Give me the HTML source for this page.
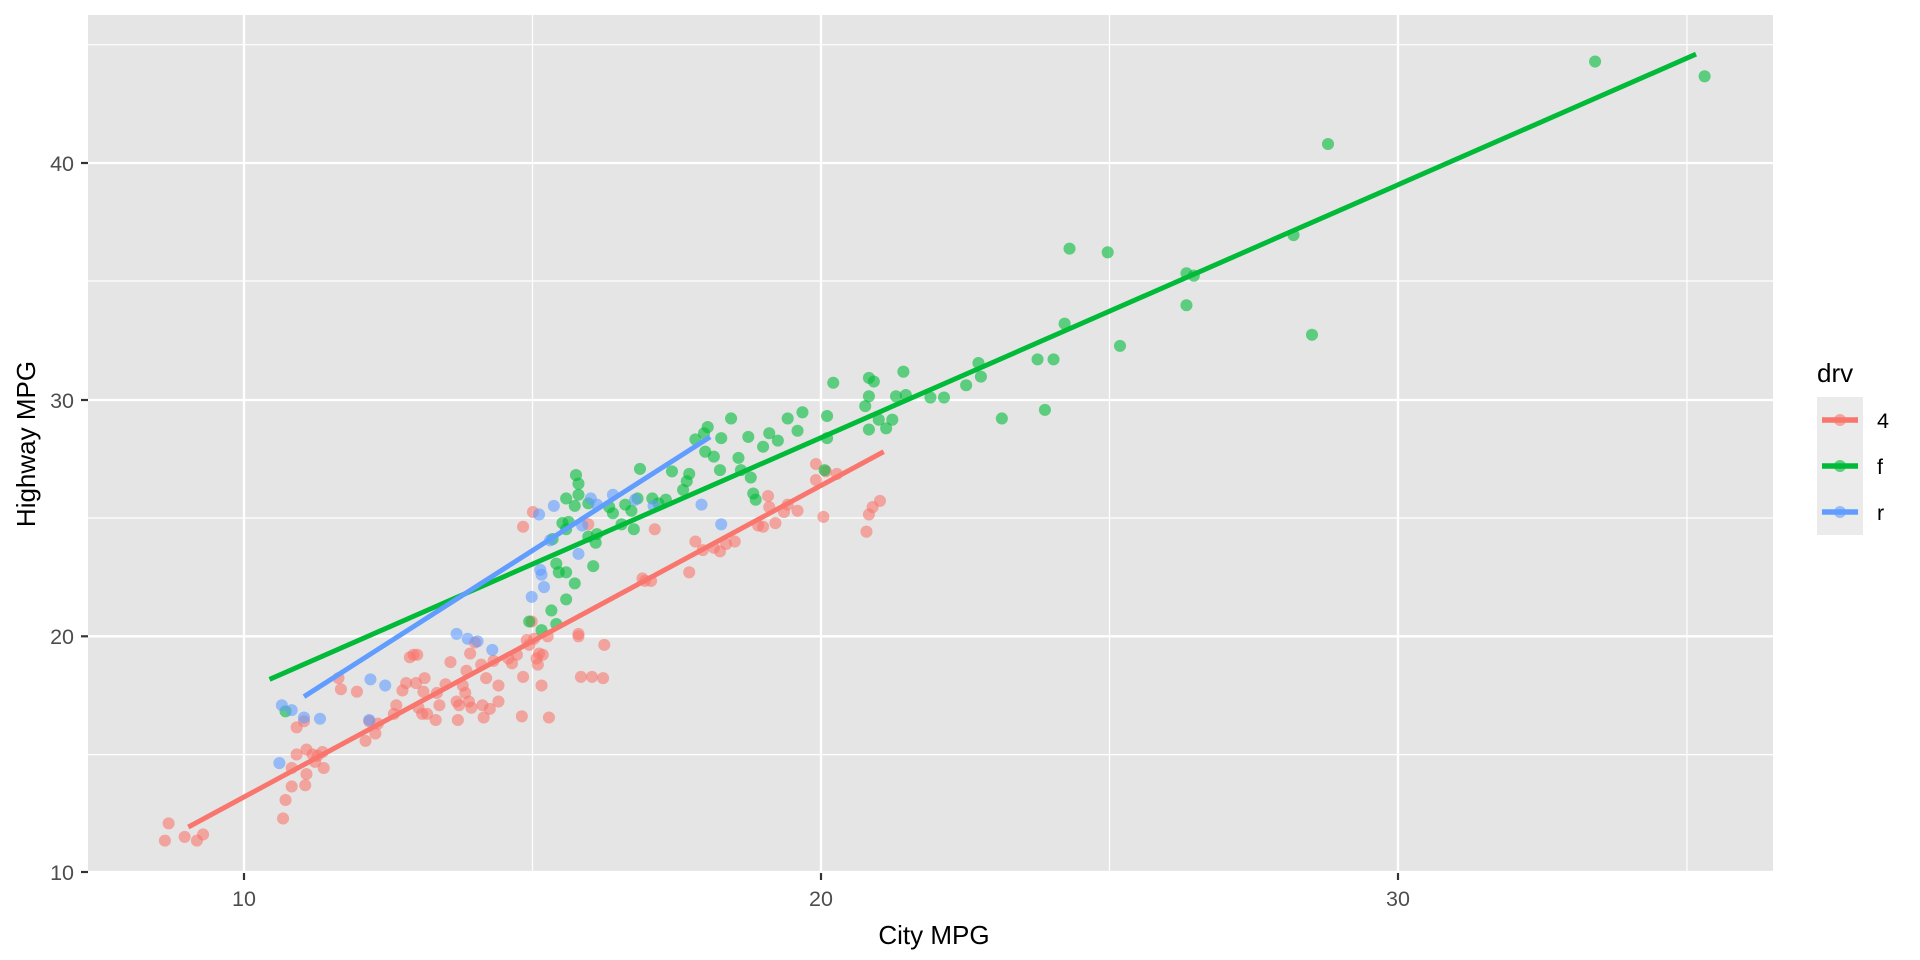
<!DOCTYPE html>
<html><head><meta charset="utf-8"><style>html,body{margin:0;padding:0;background:#fff}svg{display:block}</style></head>
<body>
<svg width="1920" height="960" viewBox="0 0 1920 960" xmlns="http://www.w3.org/2000/svg" font-family="Liberation Sans, sans-serif">
<rect x="88" y="15" width="1685" height="858" fill="#E5E5E5"/>
<g stroke="#fff" stroke-width="1.2">
<line x1="88" x2="1773" y1="754.6" y2="754.6"/><line x1="88" x2="1773" y1="518" y2="518"/><line x1="88" x2="1773" y1="281" y2="281"/><line x1="88" x2="1773" y1="44.7" y2="44.7"/>
<line y1="15" y2="873" x1="532.5" x2="532.5"/><line y1="15" y2="873" x1="1109.5" x2="1109.5"/><line y1="15" y2="873" x1="1687" x2="1687"/>
</g>
<g stroke="#fff" stroke-width="2.3">
<line x1="88" x2="1773" y1="872" y2="872"/><line x1="88" x2="1773" y1="636.3" y2="636.3"/><line x1="88" x2="1773" y1="400" y2="400"/><line x1="88" x2="1773" y1="163" y2="163"/>
<line y1="15" y2="873" x1="244" x2="244"/><line y1="15" y2="873" x1="821" x2="821"/><line y1="15" y2="873" x1="1398" x2="1398"/>
</g>
<g id="pts" transform="scale(1.230769)"></g>
<g stroke="#333" stroke-width="2.2">
<line x1="81" x2="88" y1="872" y2="872"/><line x1="81" x2="88" y1="636.3" y2="636.3"/><line x1="81" x2="88" y1="400" y2="400"/><line x1="81" x2="88" y1="163" y2="163"/>
<line y1="873" y2="880" x1="244" x2="244"/><line y1="873" y2="880" x1="821" x2="821"/><line y1="873" y2="880" x1="1398" x2="1398"/>
</g>
<g fill="#4D4D4D" font-size="21.5" text-anchor="end">
<text x="74" y="880">10</text><text x="74" y="644">20</text><text x="74" y="408">30</text><text x="74" y="171">40</text>
</g>
<g fill="#4D4D4D" font-size="21.5" text-anchor="middle">
<text x="244" y="906">10</text><text x="821" y="906">20</text><text x="1398" y="906">30</text>
</g>
<text x="934" y="944" font-size="26" text-anchor="middle">City MPG</text>
<text transform="translate(35,444) rotate(-90)" font-size="26" text-anchor="middle">Highway MPG</text>
<text x="1817" y="382" font-size="26">drv</text>
<rect x="1817" y="397" width="46" height="138" fill="#EBEBEB"/>
<g stroke-width="5.5">
<line x1="1822" x2="1858" y1="420" y2="420" stroke="#F8766D"/>
<line x1="1822" x2="1858" y1="466" y2="466" stroke="#00BA38"/>
<line x1="1822" x2="1858" y1="512" y2="512" stroke="#619CFF"/>
</g>
<circle cx="1840" cy="420" r="6" fill="#F8766D" fill-opacity="0.6"/>
<circle cx="1840" cy="466" r="6" fill="#00BA38" fill-opacity="0.6"/>
<circle cx="1840" cy="512" r="6" fill="#619CFF" fill-opacity="0.6"/>
<g font-size="21.5" fill="#000"><text x="1877" y="428">4</text><text x="1877" y="474">f</text><text x="1877" y="520">r</text></g>
</svg>
<script>
var R=[[134,683],[137,669],[150,680],[160,683],[165,678],[230,665],[232,650],[237,639],[237,624],[241,613],[249,629],[248,638],[249,609],[254,613],[256,619],[258,614],[263,624],[262,611],[241,591],[247,586],[275,551],[277,560],[290,562],[297,602],[305,596],[307,588],[300,586],[320,580],[322,573],[327,561],[330,555],[333,534],[336,532],[339,532],[338,555],[340,575],[344,562],[345,551],[343,580],[347,580],[354,585],[357,573],[355,563],[362,556],[366,538],[371,570],[372,585],[373,573],[376,557],[378,563],[379,545],[381,570],[382,531],[386,522],[391,540],[392,573],[383,575],[393,583],[398,576],[395,551],[401,537],[405,557],[405,570],[413,535],[416,539],[420,532],[424,582],[425,550],[428,520],[430,524],[432,505],[434,519],[436,535],[437,540],[438,531],[440,557],[441,532],[446,583],[445,517],[425,428],[433,416],[470,515],[470,517],[472,550],[481,550],[490,551],[478,426],[491,524],[522,470],[524,472],[529,472],[532,430],[560,465],[565,440],[571,447],[580,445],[585,448],[590,442],[597,440],[616,427],[620,428],[624,403],[625,412],[630,425],[637,416],[640,410],[648,415],[663,390],[663,377],[669,420],[671,383],[680,385],[704,432],[706,418],[709,412],[715,407]];
var G=[[1296,50],[1385,62],[1079,117],[869,202],[900,205],[964,222],[970,224],[964,248],[1051,191],[1066,272],[910,281],[849,333],[865,263],[843,292],[856,292],[814,340],[795,295],[797,306],[785,313],[767,323],[756,323],[736,321],[728,322],[734,302],[725,341],[710,310],[706,307],[706,322],[703,330],[714,341],[706,349],[720,348],[677,311],[672,338],[672,356],[670,382],[652,335],[648,350],[640,340],[632,358],[625,352],[620,363],[608,355],[600,372],[602,382],[610,388],[612,401],[614,406],[594,340],[575,347],[572,352],[573,367],[586,356],[580,371],[585,382],[565,357],[560,385],[558,391],[555,398],[546,383],[541,406],[535,409],[530,405],[520,381],[518,405],[515,430],[513,415],[508,410],[505,426],[498,417],[495,412],[484,441],[478,436],[482,460],[478,409],[470,402],[467,411],[462,424],[460,405],[454,465],[460,465],[467,474],[460,487],[452,458],[448,496],[452,507],[468,386],[470,393],[430,505],[440,512],[460,430],[449,438],[485,434],[457,425],[232,578]];
var B=[[229,573],[227,620],[237,577],[247,583],[260,584],[301,552],[300,585],[313,557],[371,515],[380,519],[388,521],[400,528],[432,485],[440,467],[439,463],[450,411],[447,439],[470,450],[473,427],[480,405],[485,410],[498,402],[516,406],[531,411],[570,410],[586,426],[438,418],[442,477]];
var ns="http://www.w3.org/2000/svg",g=document.getElementById('pts');
function pts(a,c){a.forEach(function(p){var e=document.createElementNS(ns,'circle');e.setAttribute('cx',p[0]);e.setAttribute('cy',p[1]);e.setAttribute('r',4.9);e.setAttribute('fill',c);e.setAttribute('fill-opacity',0.6);g.appendChild(e);});}
function ln(x1,y1,x2,y2,c){var e=document.createElementNS(ns,'line');e.setAttribute('x1',x1);e.setAttribute('y1',y1);e.setAttribute('x2',x2);e.setAttribute('y2',y2);e.setAttribute('stroke',c);e.setAttribute('stroke-width',4);g.appendChild(e);}
pts(R,'#F8766D');pts(G,'#00BA38');pts(B,'#619CFF');
ln(153,672,718,367,'#F8766D');ln(219,552,1378,44,'#00BA38');ln(247,566,577,355,'#619CFF');
</script>
</body></html>
